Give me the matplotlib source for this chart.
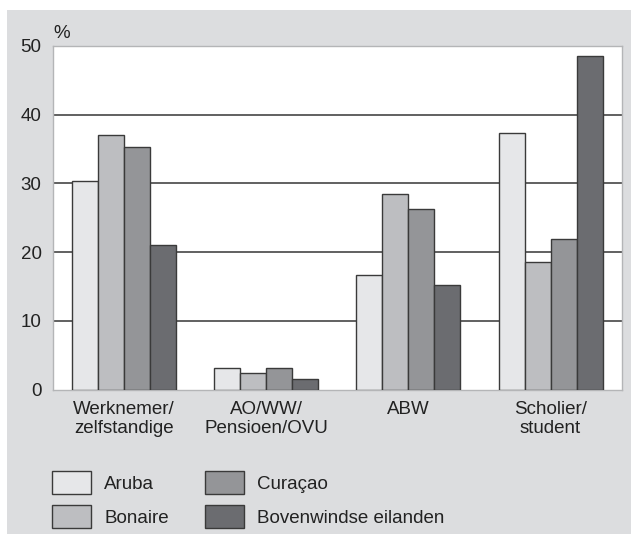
import matplotlib
matplotlib.use("Agg")
import matplotlib.pyplot as plt
from matplotlib.patches import Rectangle, Patch
import numpy as np

plt.rcParams['font.family'] = ['Liberation Sans', 'DejaVu Sans']

categories = ["Werknemer/\nzelfstandige", "AO/WW/\nPensioen/OVU", "ABW", "Scholier/\nstudent"]
series_names = ["Aruba", "Bonaire", "Curaçao", "Bovenwindse eilanden"]
aruba = [30.3, 3.2, 16.7, 37.3]
bonaire = [37.0, 2.4, 28.5, 18.5]
curacao = [35.3, 3.2, 26.3, 21.9]
bovenwinds = [21.0, 1.5, 15.2, 48.6]
yticks = [0, 10, 20, 30, 40, 50]

series = [aruba, bonaire, curacao, bovenwinds]
colors = ["#e6e7e9", "#bdbec1", "#949598", "#6b6c70"]
edge = "#3a3a3a"
bg = "#dcdddf"
fs = 13.5

W, H = 631, 537
fig = plt.figure(figsize=(W / 100, H / 100), dpi=100, facecolor="white")
bgrect = Rectangle((7 / W, 1 - 534 / H), (W - 7) / W, (534 - 10) / H,
                   transform=fig.transFigure, facecolor=bg, edgecolor="none", zorder=-10)
fig.patches.append(bgrect)

left, right, top, bottom = 52.7, 621.7, 46, 389.5
ax = fig.add_axes([left / W, 1 - bottom / H, (right - left) / W, (bottom - top) / H], zorder=1)
ax.set_facecolor("white")

x = np.arange(len(categories))
bw = 0.183
for i, (vals, c, name) in enumerate(zip(series, colors, series_names)):
    ax.bar(x + (i - 1.5) * bw, vals, width=bw, color=c, edgecolor=edge, linewidth=1.0,
           zorder=3, label=name)

for v in yticks[1:-1]:
    ax.axhline(v, color="#363636", linewidth=1.1, zorder=1)

ax.set_xlim(-0.5, len(categories) - 0.5)
ax.set_ylim(0, 50)
ax.set_yticks(yticks)
ax.set_yticklabels([str(v) for v in yticks], fontsize=fs, color="#222222")
ax.set_xticks(x)
ax.set_xticklabels(categories, fontsize=fs, color="#222222", linespacing=1.2)
ax.tick_params(axis="y", length=0, pad=8)
ax.tick_params(axis="x", length=0, pad=8)
for s in ax.spines.values():
    s.set_color("#b4b5b7")
    s.set_linewidth(1.0)

fig.text(53 / W, 1 - 38 / H, "%", fontsize=fs, color="#222222", ha="left", va="baseline")

handles = [Patch(facecolor=c, edgecolor=edge, linewidth=1.0) for c in colors]
em = fs * 100 / 72
hh = (23 / em - 0.245) / 0.65
leg = fig.legend(handles, series_names, loc="upper left",
                 bbox_to_anchor=(52.3 / W, 1 - 471 / H), bbox_transform=fig.transFigure,
                 ncol=2, frameon=False, fontsize=fs, borderpad=0, borderaxespad=0,
                 handlelength=39 / em, handleheight=hh, handletextpad=13 / em,
                 labelspacing=(34 - 23) / em, columnspacing=36 / em)
for t in leg.get_texts():
    t.set_color("#222222")

fig.savefig("out.png", dpi=100, facecolor="white")
